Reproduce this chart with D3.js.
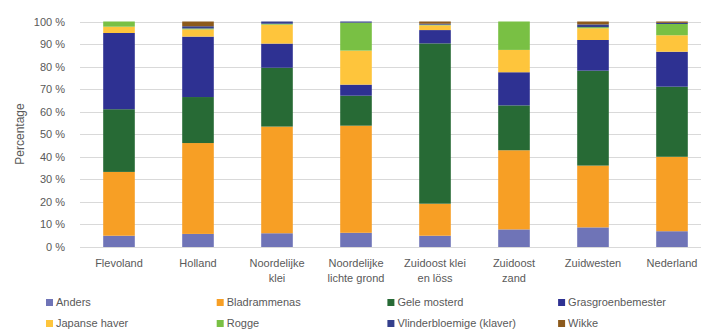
<!DOCTYPE html>
<html>
<head>
<meta charset="utf-8">
<script src="https://cdn.jsdelivr.net/npm/d3@7"></script>
<style>
  html, body { margin: 0; padding: 0; background: #fff; }
  svg { display: block; }
  text { font-family: "Liberation Sans", Arial, sans-serif; fill: #595959; }
</style>
</head>
<body>
<svg id="chart" width="701" height="329"></svg>
<script>
// Regions (x-axis categories); "\n" splits a label over two lines
const regions = [
  "Flevoland", "Holland", "Noordelijke\nklei", "Noordelijke\nlichte grond",
  "Zuidoost klei\nen löss", "Zuidoost\nzand", "Zuidwesten", "Nederland"
];

// Share (%) of each green-manure crop per region
const anders          = [5.0, 5.8, 6.1, 6.3, 5.0, 7.8, 8.7, 7.0];
const bladrammenas    = [28.3, 40.3, 47.3, 47.5, 14.2, 35.1, 27.4, 33.0];
const geleMosterd     = [27.8, 20.4, 26.1, 13.3, 71.1, 19.9, 42.1, 31.1];
const grasgroen       = [33.8, 26.8, 10.7, 4.9, 5.9, 14.7, 13.6, 15.5];
const japanseHaver    = [2.8, 3.2, 8.4, 15.1, 2.1, 9.9, 5.2, 7.3];
const rogge           = [2.3, 0.4, 0.4, 12.4, 0.3, 12.6, 0.5, 5.0];
const vlinderbloemige = [0.0, 1.0, 1.0, 0.5, 0.4, 0.0, 1.2, 0.5];
const wikke           = [0.0, 2.1, 0.0, 0.0, 1.0, 0.0, 1.3, 0.6];

const seriesNames = [
  "Anders", "Bladrammenas", "Gele mosterd", "Grasgroenbemester",
  "Japanse haver", "Rogge", "Vlinderbloemige (klaver)", "Wikke"
];
const seriesValues = [anders, bladrammenas, geleMosterd, grasgroen,
  japanseHaver, rogge, vlinderbloemige, wikke];
const seriesColors = ["#6F74B7", "#F79F25", "#276A35", "#2E3192",
  "#FEC53C", "#79C044", "#343F8C", "#8C5A1C"];

const yTicks = [0, 10, 20, 30, 40, 50, 60, 70, 80, 90, 100];

// Build one row per region for d3.stack
const rows = regions.map((r, i) => {
  const row = { region: r };
  seriesNames.forEach((s, k) => { row[s] = seriesValues[k][i]; });
  return row;
});
const stacked = d3.stack().keys(seriesNames)(rows);

const svg = d3.select("#chart");

const x = d3.scaleBand().domain(regions).range([79.5, 711.5]).paddingInner(0.6).paddingOuter(0.3);
const y = d3.scaleLinear().domain([0, 100]).range([247, 21.5]);

// Horizontal gridlines
svg.append("g")
  .selectAll("line")
  .data(yTicks)
  .join("line")
  .attr("x1", 80).attr("x2", 701)
  .attr("y1", d => Math.round(y(d)) + 0.5)
  .attr("y2", d => Math.round(y(d)) + 0.5)
  .attr("stroke", "#D9D9D9")
  .attr("stroke-width", 1);

// Y tick labels
svg.append("g")
  .selectAll("text")
  .data(yTicks)
  .join("text")
  .attr("x", 65)
  .attr("y", d => y(d) + 4)
  .attr("text-anchor", "end")
  .attr("font-size", 11)
  .text(d => d + " %");

// Y axis title
svg.append("text")
  .attr("transform", "translate(24,134) rotate(-90)")
  .attr("text-anchor", "middle")
  .attr("font-size", 12)
  .text("Percentage");

// Stacked bars
svg.append("g")
  .selectAll("g")
  .data(stacked)
  .join("g")
  .attr("fill", (d, i) => seriesColors[i])
  .selectAll("rect")
  .data(d => d)
  .join("rect")
  .attr("x", d => x(d.data.region))
  .attr("width", x.bandwidth())
  .attr("y", d => y(d[1]))
  .attr("height", d => Math.max(0, y(d[0]) - y(d[1])));

// X category labels
const xl = svg.append("g")
  .selectAll("text")
  .data(regions)
  .join("text")
  .attr("x", d => x(d) + x.bandwidth() / 2)
  .attr("y", 267)
  .attr("text-anchor", "middle")
  .attr("font-size", 11);
xl.selectAll("tspan")
  .data(d => d.split("\n"))
  .join("tspan")
  .attr("x", function () { return d3.select(this.parentNode).attr("x"); })
  .attr("dy", (d, i) => i === 0 ? 0 : 15)
  .text(d => d);

// Legend: 4 columns x 2 rows
const legend = svg.append("g")
  .selectAll("g")
  .data(seriesNames)
  .join("g")
  .attr("transform", (d, i) => `translate(${46 + (i % 4) * 170.7},${302 + Math.floor(i / 4) * 21})`);
legend.append("rect")
  .attr("x", 0).attr("y", -3)
  .attr("width", 7).attr("height", 7)
  .attr("fill", (d, i) => seriesColors[i]);
legend.append("text")
  .attr("x", 10).attr("y", 4)
  .attr("font-size", 11)
  .text(d => d);
</script>
</body>
</html>
